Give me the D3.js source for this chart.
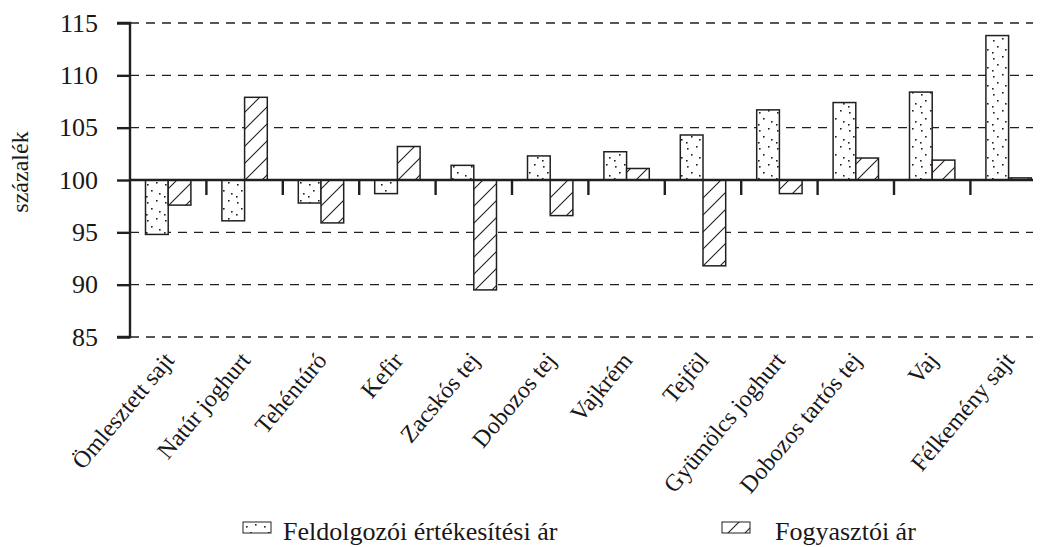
<!DOCTYPE html>
<html>
<head>
<meta charset="utf-8">
<script src="https://cdn.jsdelivr.net/npm/d3@7"></script>
<style>
html, body { margin: 0; padding: 0; background: #fff; }
svg { display: block; }
</style>
</head>
<body>
<svg id="chart" width="1041" height="547"></svg>
<script>
const categories = ["Ömlesztett sajt", "Natúr joghurt", "Tehéntúró", "Kefir", "Zacskós tej", "Dobozos tej", "Vajkrém", "Tejföl", "Gyümölcs joghurt", "Dobozos tartós tej", "Vaj", "Félkemény sajt"];
const seriesNames = ["Feldolgozói értékesítési ár", "Fogyasztói ár"];
const feldolgozoi = [94.8, 96.1, 97.8, 98.7, 101.4, 102.3, 102.7, 104.3, 106.7, 107.4, 108.4, 113.8];
const fogyasztoi = [97.6, 107.9, 95.9, 103.2, 89.5, 96.6, 101.1, 91.8, 98.7, 102.1, 101.9, 100.2];
const yTicks = [85, 90, 95, 100, 105, 110, 115];
const yLabel = "százalék";

const ink = "#231f20";
const serif = "'Liberation Serif', 'Times New Roman', serif";
const svg = d3.select("#chart");
const plotLeft = 130, plotTop = 23, plotBottom = 337, plotRight = 1033;
const baseValue = 100;

const x = d3.scaleBand().domain(categories).range([plotLeft, plotLeft + 12 * 76.4]).paddingInner(0.406).paddingOuter(0.203);
const xs = d3.scaleBand().domain(seriesNames).range([0, x.bandwidth()]);
const y = d3.scaleLinear().domain([85, 115]).range([plotBottom, plotTop]);

// patterns
const defs = svg.append("defs");
const stip = defs.append("pattern").attr("id", "stipple").attr("patternUnits", "userSpaceOnUse")
  .attr("width", 18).attr("height", 18);
stip.append("rect").attr("width", 18).attr("height", 18).attr("fill", "#fff");
[[3,4],[12,2],[7,10],[15,13],[2,16]].forEach(p => {
  stip.append("rect").attr("x", p[0]).attr("y", p[1]).attr("width", 1.6).attr("height", 1.6).attr("fill", ink);
});
const hatch = defs.append("pattern").attr("id", "hatch").attr("patternUnits", "userSpaceOnUse")
  .attr("width", 17).attr("height", 17);
hatch.append("rect").attr("width", 17).attr("height", 17).attr("fill", "#fff");
hatch.append("path").attr("d", "M-4,4 L4,-4 M0,17 L17,0 M13,21 L21,13").attr("stroke", ink).attr("stroke-width", 1.1);

// gridlines
svg.append("g").selectAll("line").data(yTicks.filter(t => t !== baseValue)).join("line")
  .attr("x1", plotLeft).attr("x2", plotRight)
  .attr("y1", d => y(d)).attr("y2", d => y(d))
  .attr("stroke", ink).attr("stroke-width", 1.4).attr("stroke-dasharray", "9,7");

// bars
const fills = ["url(#stipple)", "url(#hatch)"];
const seriesVals = [feldolgozoi, fogyasztoi];
seriesNames.forEach((s, si) => {
  svg.append("g").selectAll("rect").data(seriesVals[si]).join("rect")
    .attr("x", (d, i) => x(categories[i]) + xs(s))
    .attr("width", xs.bandwidth())
    .attr("y", d => y(Math.max(d, baseValue)))
    .attr("height", d => Math.abs(y(d) - y(baseValue)))
    .attr("fill", fills[si]).attr("stroke", ink).attr("stroke-width", 1.5);
});

// y axis
const yAxis = d3.axisLeft(y).tickValues(yTicks).tickSize(13).tickPadding(19).tickFormat(d3.format("d"));
const ya = svg.append("g").attr("transform", `translate(${plotLeft},0)`).call(yAxis);
ya.select(".domain").attr("stroke", ink).attr("stroke-width", 2.4).attr("d", `M-13,${plotTop}H0V${plotBottom}H-13`);
ya.selectAll(".tick line").attr("stroke", ink).attr("stroke-width", 2.4);
ya.selectAll(".tick text").style("font-family", serif).style("font-size", "26px").attr("fill", "#1a1718");

// baseline axis at 100
const step = x.step();
svg.append("line").attr("x1", plotLeft).attr("x2", plotRight).attr("y1", y(baseValue)).attr("y2", y(baseValue))
  .attr("stroke", ink).attr("stroke-width", 2.4);
svg.append("g").selectAll("line").data(categories.slice(1)).join("line")
  .attr("x1", d => x(d) - step * x.paddingInner() / 2)
  .attr("x2", d => x(d) - step * x.paddingInner() / 2)
  .attr("y1", y(baseValue)).attr("y2", y(baseValue) + 15)
  .attr("stroke", ink).attr("stroke-width", 2.4);

// category labels
svg.append("g").selectAll("text").data(categories).join("text")
  .attr("transform", d => `translate(${x(d) + x.bandwidth() / 2 + 7},${361}) rotate(-50)`)
  .attr("text-anchor", "end").style("font-family", serif).style("font-size", "24px").attr("fill", "#1a1718").text(d => d);

// y label
svg.append("text").attr("transform", `translate(28,172) rotate(-90)`).attr("text-anchor", "middle")
  .style("font-family", serif).style("font-size", "24px").attr("fill", "#1a1718").text(yLabel);

// legend
const legX = [243, 722];
const legend = svg.append("g").selectAll("g").data(seriesNames).join("g")
  .attr("transform", (d, i) => `translate(${legX[i]},522)`);
legend.append("rect").attr("width", 28).attr("height", 11)
  .attr("fill", (d, i) => fills[i]).attr("stroke", ink).attr("stroke-width", 1);
legend.append("text").attr("x", (d, i) => i === 0 ? 40 : 53).attr("y", 18)
  .style("font-family", serif).style("font-size", "26px").attr("fill", "#1a1718").text(d => d);
</script>
</body>
</html>
